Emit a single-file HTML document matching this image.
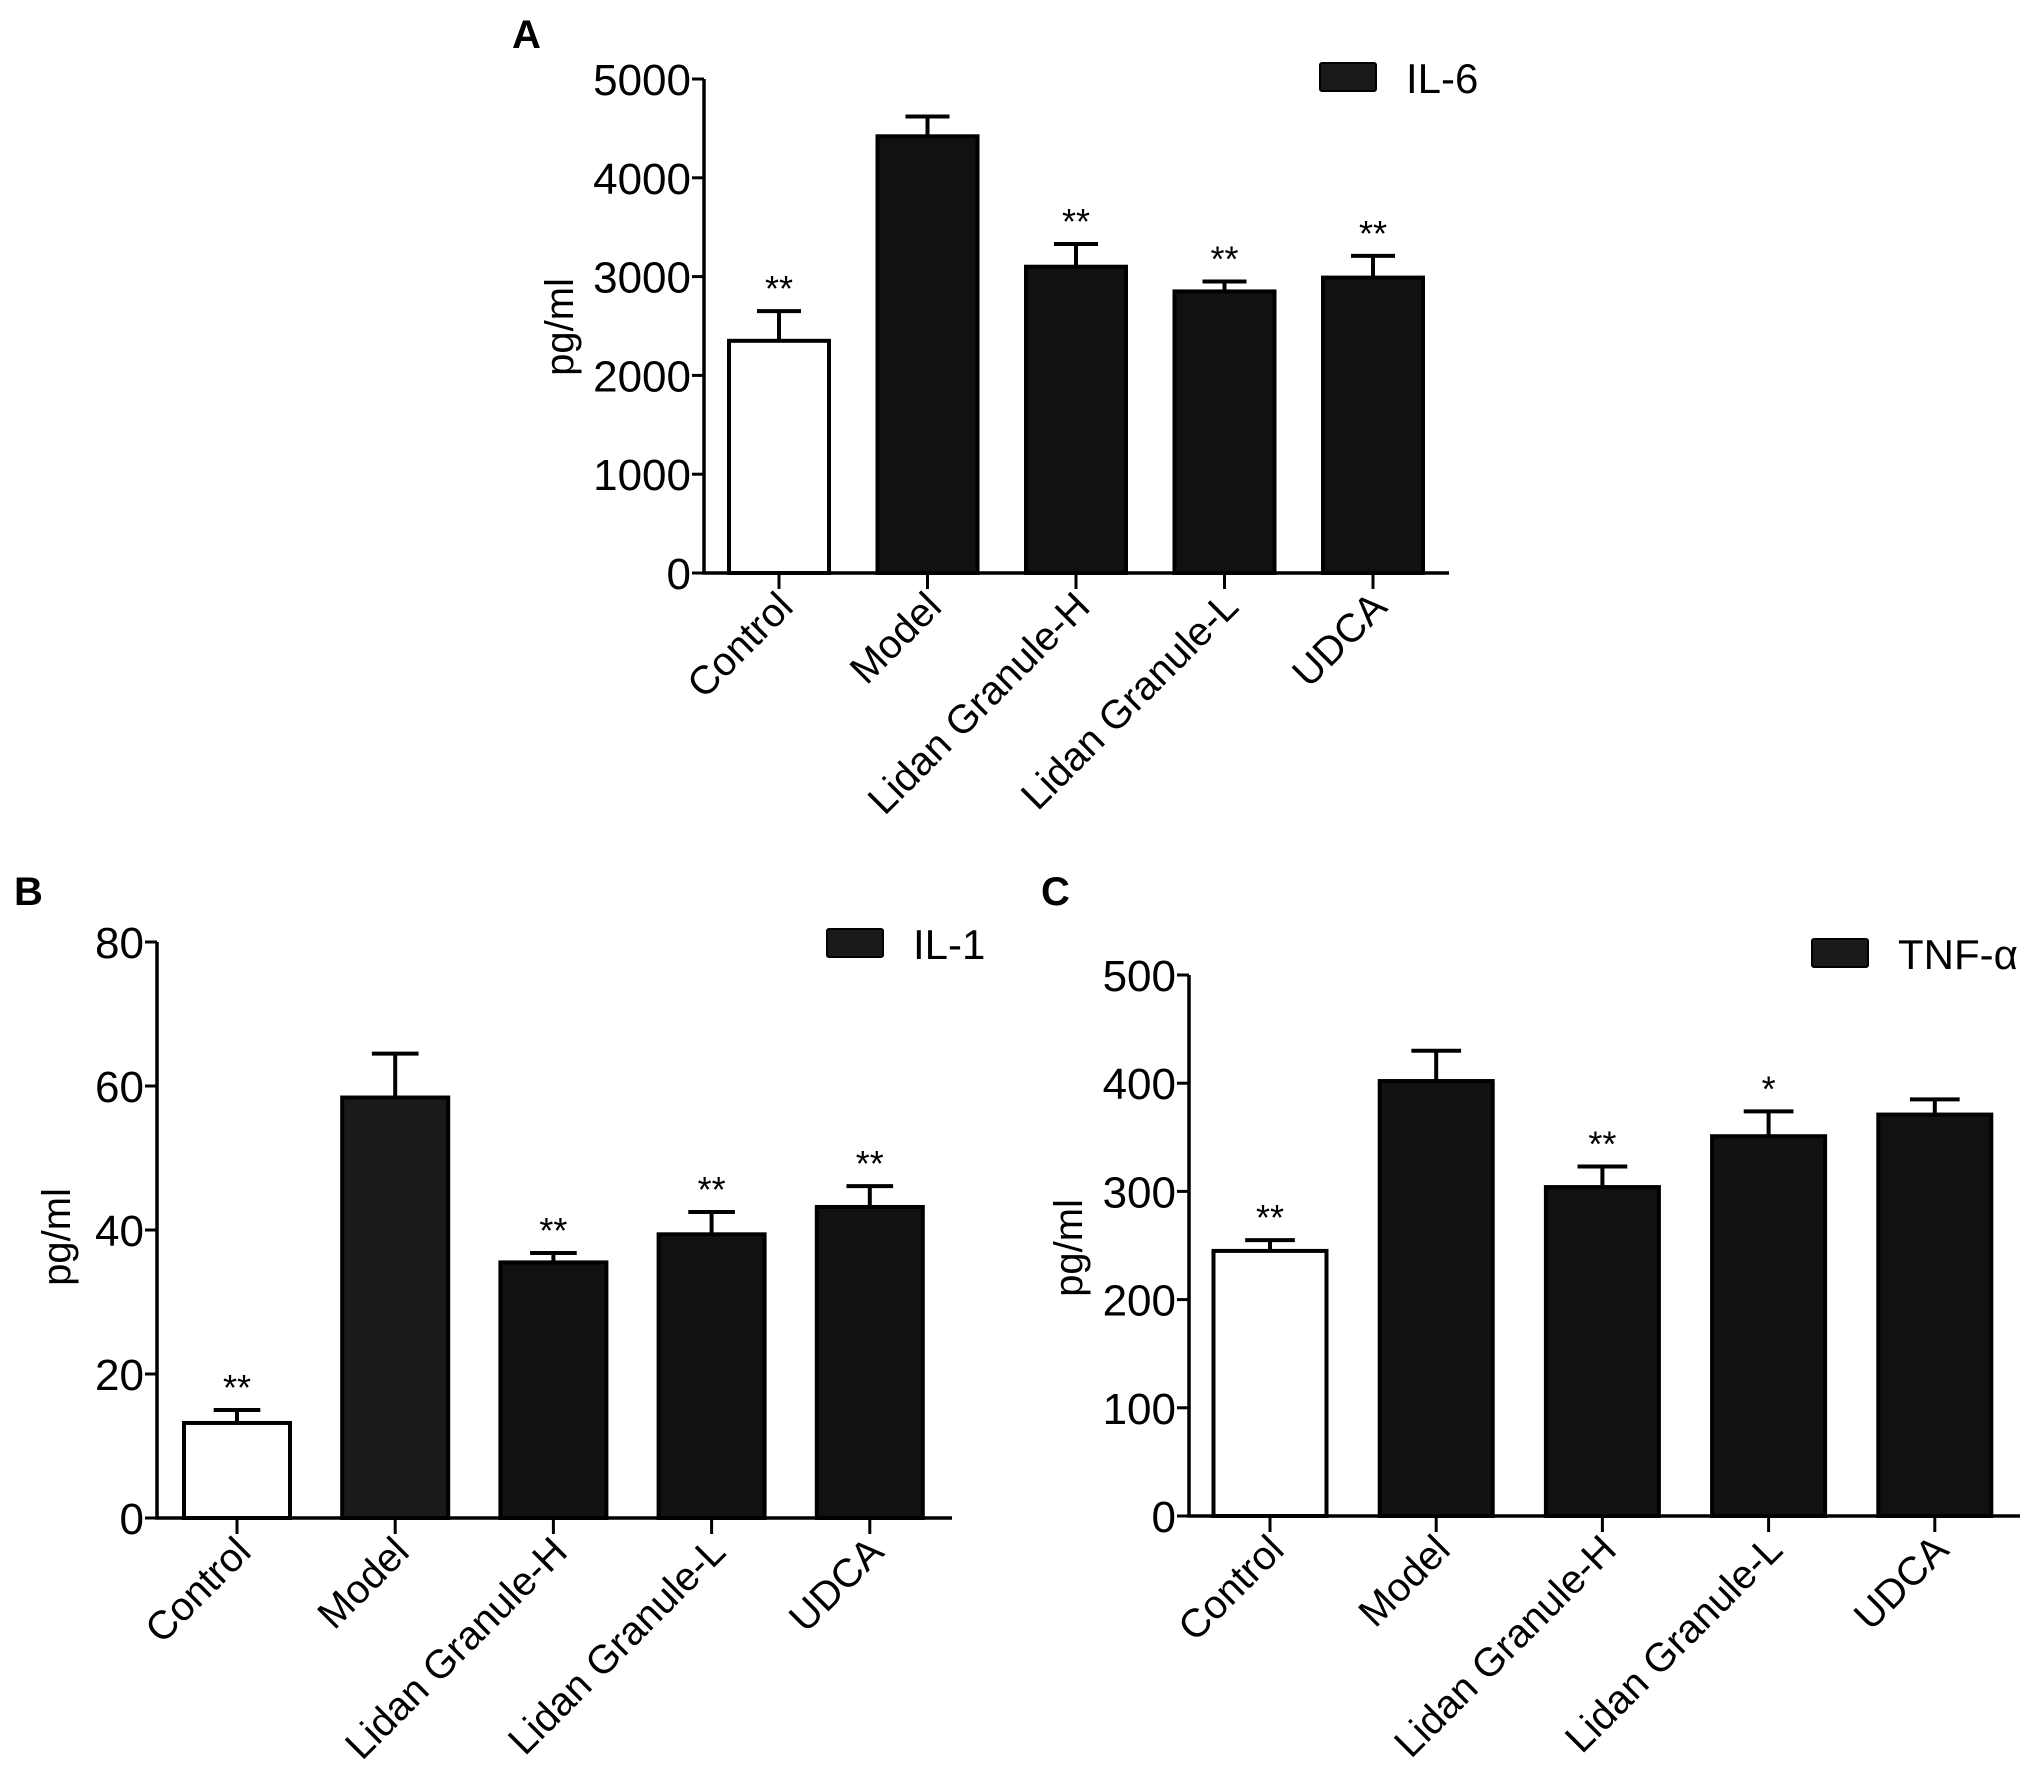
<!DOCTYPE html>
<html><head><meta charset="utf-8"><style>
html,body{margin:0;padding:0;background:#fff;}
svg{display:block;font-family:"Liberation Sans",Arial,sans-serif;}
</style></head><body>
<svg id="fig" width="2031" height="1779" viewBox="0 0 2031 1779" xmlns="http://www.w3.org/2000/svg"></svg>
<script>
const categories = ["Control","Model","Lidan Granule-H","Lidan Granule-L","UDCA"];
const il6Values = [2350,4420,3100,2850,2990];
const il6Errors = [300,200,230,100,220];
const il6Stars = ["**","","**","**","**"];
const il6Ticks = [0,1000,2000,3000,4000,5000];
const il1Values = [13.2,58.4,35.5,39.4,43.2];
const il1Errors = [1.8,6.1,1.3,3.1,2.9];
const il1Stars = ["**","","**","**","**"];
const il1Ticks = [0,20,40,60,80];
const tnfValues = [245,402,304,351,371];
const tnfErrors = [10,28,19,23,14];
const tnfStars = ["**","","**","*",""];
const tnfTicks = [0,100,200,300,400,500];

const svg = document.getElementById('fig');
const NS = 'http://www.w3.org/2000/svg';
function mk(tag, attrs, parent){
  const e = document.createElementNS(NS, tag);
  for (const k in attrs) e.setAttribute(k, attrs[k]);
  (parent||svg).appendChild(e);
  return e;
}

function panel(p, values, errors, stars, ticks){
  const g = mk('g', {});
  
  
  const ymax = ticks[ticks.length-1];
  const yScale = v => p.y0 - (v / ymax) * (p.y0 - p.yTop);
  const xScale = i => p.c0 + i * p.step;
  const L = mk('text', {x:p.letterX, y:p.letterY, 'font-size':40, 'font-weight':'bold'}, g);
  L.textContent = p.letter;
  
  
  values.forEach((v, i) => {
    const cx = xScale(i), top = yScale(v);
    const r = mk('rect', {x:cx - p.bw/2, y:top, width:p.bw, height:p.y0 - top,
      fill: i === 0 ? '#fff' : (p.id==='il1' && i===1 ? '#1a1a1a' : '#111'), stroke:'#000', 'stroke-width':4}, g);
    
    
    const et = yScale(v + errors[i]);
    const el = mk('path', {d:`M${cx} ${top} V${et} M${cx - p.bw*0.22} ${et} H${cx + p.bw*0.22}`, stroke:'#000', 'stroke-width':4, fill:'none'}, g);
    
    
    if (stars[i]) {
      const s = mk('text', {x:cx, y:et - 10, 'font-size':36, 'text-anchor':'middle'}, g);
      s.textContent = stars[i];
      
      
    }
    const tk = mk('line', {x1:cx, x2:cx, y1:p.y0, y2:p.y0 + 16, stroke:'#000', 'stroke-width':3}, g);
    
    
    const lx = cx + 16, ly = p.y0 + 36;
    const t = mk('text', {x:lx, y:ly, 'font-size':40, 'text-anchor':'end', transform:`rotate(-45 ${lx} ${ly})`}, g);
    t.textContent = categories[i];
    
    
  });
  const ax = mk('path', {d:`M${p.ax} ${p.yTop} V${p.y0} H${p.xEnd}`, stroke:'#000', 'stroke-width':3.5, fill:'none'}, g);
  
  
  ticks.forEach(tv => {
    const y = yScale(tv);
    const l = mk('line', {x1:p.ax - 12, x2:p.ax, y1:y, y2:y, stroke:'#000', 'stroke-width':3}, g);
    
    
    const t = mk('text', {x:p.ax - 13, y:y + 16, 'font-size':44, 'text-anchor':'end'}, g);
    t.textContent = tv;
    
    
  });
  const yt = mk('text', {x:p.ytX, y:p.ytY, 'font-size':40, 'text-anchor':'middle', transform:`rotate(-90 ${p.ytX} ${p.ytY})`}, g);
  yt.textContent = 'pg/ml';
  
  
  const lr = mk('rect', {x:p.lgX, y:p.lgY, width:56, height:28, fill:'#1a1a1a', stroke:'#000', 'stroke-width':2, rx:2}, g);
  
  
  const lt = mk('text', {x:p.lgX + 86, y:p.lgY + 30, 'font-size':42}, g);
  lt.textContent = p.legend;
  
  
}

panel({id:'il6', letter:'A', letterX:512, letterY:48, ax:704, yTop:79, y0:573, xEnd:1449,
  c0:779, step:148.5, bw:100, ytX:573, ytY:327, lgX:1320, lgY:63, legend:'IL-6'},
  il6Values, il6Errors, il6Stars, il6Ticks);
panel({id:'il1', letter:'B', letterX:14, letterY:905, ax:157, yTop:942, y0:1518, xEnd:952,
  c0:237, step:158.2, bw:106, ytX:70, ytY:1237, lgX:827, lgY:929, legend:'IL-1'},
  il1Values, il1Errors, il1Stars, il1Ticks);
panel({id:'tnf', letter:'C', letterX:1041, letterY:905, ax:1189, yTop:975, y0:1516, xEnd:2020,
  c0:1270, step:166.2, bw:113, ytX:1082, ytY:1248, lgX:1812, lgY:939, legend:'TNF-α'},
  tnfValues, tnfErrors, tnfStars, tnfTicks);
</script>
</body></html>
